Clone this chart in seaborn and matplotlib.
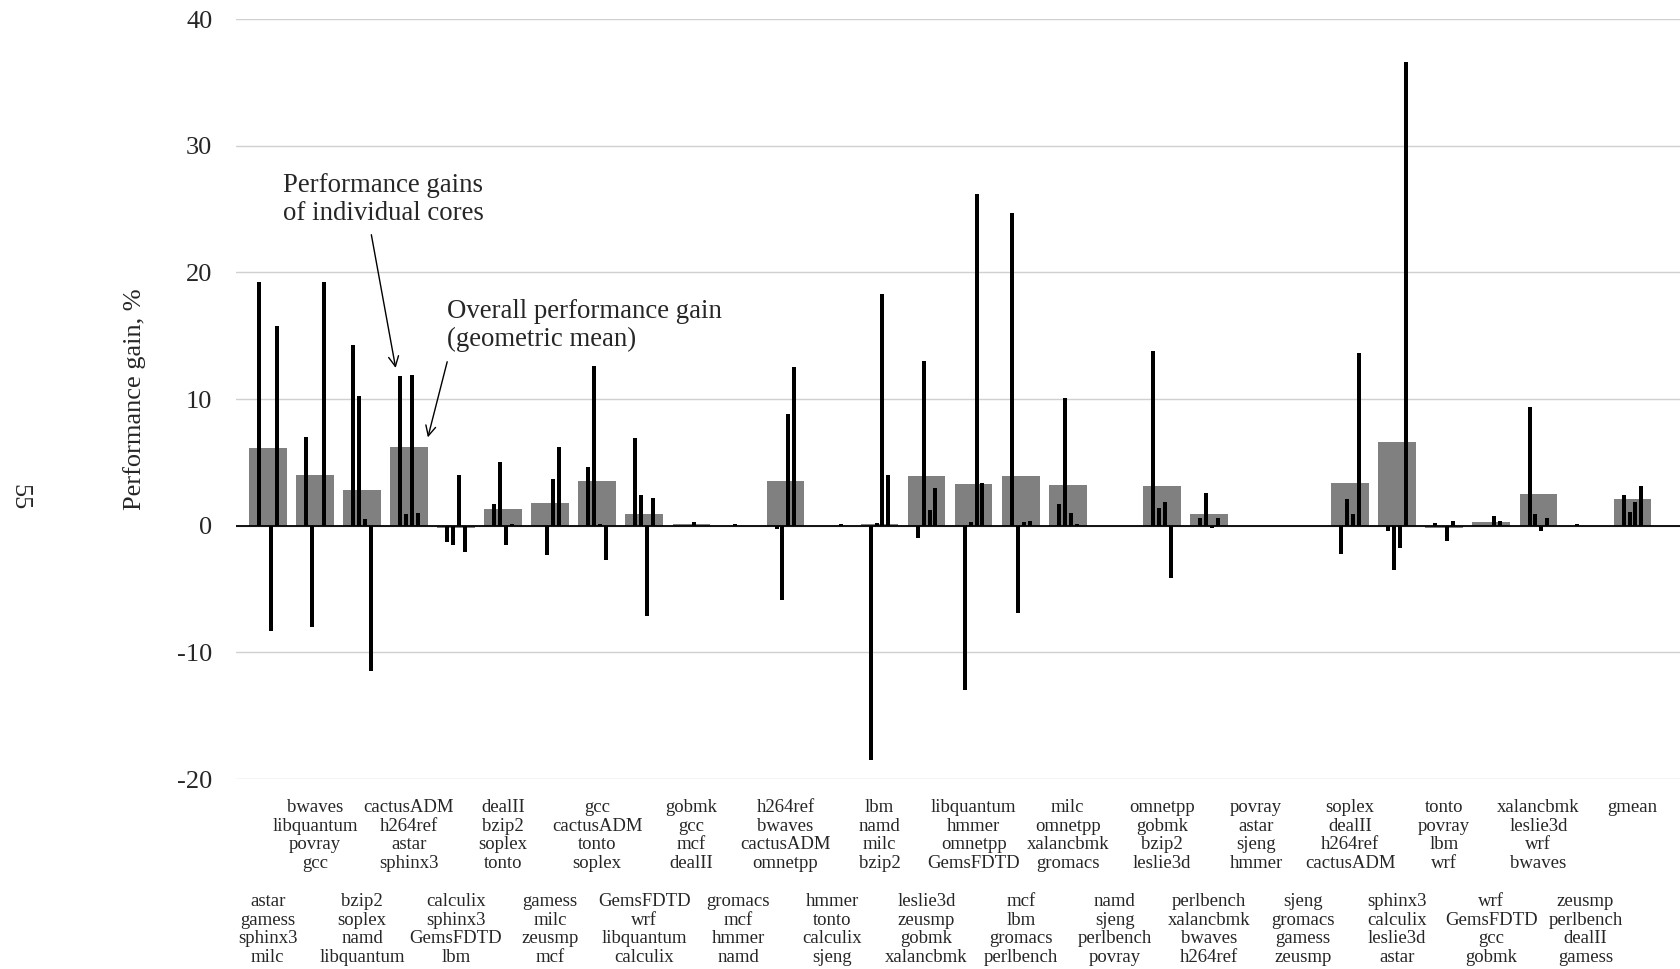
import matplotlib
matplotlib.use("Agg")
import matplotlib.pyplot as plt
import matplotlib.transforms as mtransforms
import numpy as np
import pandas as pd
import seaborn as sns

# Workload mixes (four programs, one per core) plus the geometric mean
mixes = [
    ["astar", "gamess", "sphinx3", "milc"],
    ["bwaves", "libquantum", "povray", "gcc"],
    ["bzip2", "soplex", "namd", "libquantum"],
    ["cactusADM", "h264ref", "astar", "sphinx3"],
    ["calculix", "sphinx3", "GemsFDTD", "lbm"],
    ["dealII", "bzip2", "soplex", "tonto"],
    ["gamess", "milc", "zeusmp", "mcf"],
    ["gcc", "cactusADM", "tonto", "soplex"],
    ["GemsFDTD", "wrf", "libquantum", "calculix"],
    ["gobmk", "gcc", "mcf", "dealII"],
    ["gromacs", "mcf", "hmmer", "namd"],
    ["h264ref", "bwaves", "cactusADM", "omnetpp"],
    ["hmmer", "tonto", "calculix", "sjeng"],
    ["lbm", "namd", "milc", "bzip2"],
    ["leslie3d", "zeusmp", "gobmk", "xalancbmk"],
    ["libquantum", "hmmer", "omnetpp", "GemsFDTD"],
    ["mcf", "lbm", "gromacs", "perlbench"],
    ["milc", "omnetpp", "xalancbmk", "gromacs"],
    ["namd", "sjeng", "perlbench", "povray"],
    ["omnetpp", "gobmk", "bzip2", "leslie3d"],
    ["perlbench", "xalancbmk", "bwaves", "h264ref"],
    ["povray", "astar", "sjeng", "hmmer"],
    ["sjeng", "gromacs", "gamess", "zeusmp"],
    ["soplex", "dealII", "h264ref", "cactusADM"],
    ["sphinx3", "calculix", "leslie3d", "astar"],
    ["tonto", "povray", "lbm", "wrf"],
    ["wrf", "GemsFDTD", "gcc", "gobmk"],
    ["xalancbmk", "leslie3d", "wrf", "bwaves"],
    ["zeusmp", "perlbench", "dealII", "gamess"],
    ["gmean"],
]

# Overall gain of each mix (geometric mean over the cores), %
overall_gain = [6.1, 4.0, 2.8, 6.2, -0.2, 1.3, 1.8, 3.5, 0.9, 0.1,
                0.0, 3.5, 0.0, 0.1, 3.9, 3.3, 3.9, 3.2, 0.0, 3.1,
                0.9, 0.0, 0.0, 3.4, 6.6, -0.2, 0.3, 2.5, 0.0, 2.1]

# Gains of the individual cores, %
core1_gain = [19.2, 7.0, 14.3, 11.8, -1.3, 1.7, 0.0, 4.6, 6.9, 0.0,
              0.0, -0.3, 0.0, -18.5, -1.0, -13.0, 24.7, 1.7, 0.0, 13.8,
              0.6, 0.0, 0.0, -2.2, -0.4, 0.2, 0.0, 9.4, 0.1, 2.4]
core2_gain = [0.0, -8.0, 10.2, 0.9, -1.5, 5.0, -2.3, 12.6, 2.4, 0.0,
              0.1, -5.9, 0.0, 0.2, 13.0, 0.3, -6.9, 10.1, 0.0, 1.4,
              2.6, 0.0, 0.0, 2.1, -3.5, 0.0, 0.0, 0.9, 0.0, 1.1]
core3_gain = [-8.3, 0.0, 0.5, 11.9, 4.0, -1.5, 3.7, 0.1, -7.1, 0.3,
              0.0, 8.8, 0.0, 18.3, 1.2, 26.2, 0.3, 1.0, 0.0, 1.9,
              -0.2, 0.0, 0.0, 0.9, -1.8, -1.2, 0.8, -0.4, 0.0, 1.9]
core4_gain = [15.8, 19.2, -11.5, 1.0, -2.1, 0.1, 6.2, -2.7, 2.2, 0.0,
              0.0, 12.5, 0.1, 4.0, 3.0, 3.4, 0.4, 0.1, 0.0, -4.1,
              0.6, 0.0, 0.0, 13.6, 36.6, 0.4, 0.4, 0.6, 0.0, 3.1]

y_ticks = [-20, -10, 0, 10, 20, 30, 40]

mix_names = ["\n".join(m) for m in mixes]

overall_df = pd.DataFrame({"mix": mix_names, "gain": overall_gain})
cores = ["core 1", "core 2", "core 3", "core 4"]
core_df = pd.DataFrame({
    "mix": mix_names * 4,
    "core": np.repeat(cores, len(mix_names)),
    "gain": core1_gain + core2_gain + core3_gain + core4_gain,
})

sns.set_theme(style="white")
serif = ["Liberation Serif", "DejaVu Serif"]
plt.rcParams["font.family"] = serif
plt.rcParams["axes.unicode_minus"] = False

fig = plt.figure(figsize=(16.8, 9.69), dpi=100)
ax = fig.add_axes([236 / 1680, 1 - 779 / 969, 1444 / 1680, 760 / 969])

sns.barplot(data=overall_df, x="mix", y="gain", order=mix_names,
            color="#808080", saturation=1, width=0.8, errorbar=None,
            linewidth=0, edgecolor="none", ax=ax, zorder=2)
sns.barplot(data=core_df, x="mix", y="gain", hue="core", order=mix_names,
            hue_order=cores, palette={c: "#000000" for c in cores},
            saturation=1, width=0.5, gap=0.32, dodge=True, errorbar=None,
            linewidth=0, edgecolor="none", legend=False, ax=ax, zorder=3)

ax.axhline(0, color="#000000", lw=1.3, zorder=4)

ax.set_xlim(-0.676, 30.01)
ax.set_ylim(-20, 40)
ax.set_yticks(y_ticks)
ax.set_yticklabels([str(t) for t in y_ticks], fontsize=19)
ax.tick_params(axis="y", length=0, pad=17)
ax.set_xticks([])
ax.set_xlabel("")
ax.grid(axis="y", color="#d0d0d0", lw=1.0)
ax.set_axisbelow(True)
for s in ax.spines.values():
    s.set_visible(False)

ax.set_ylabel("Performance gain, %", fontsize=19)
ax.yaxis.set_label_coords(-0.062, 0.5)

# Mix names under the bars, alternating between two rows
trans = mtransforms.blended_transform_factory(ax.transData, ax.transAxes)
for i, name in enumerate(mix_names):
    y = -0.0263 if i % 2 == 1 else -0.150
    ax.text(i, y, name, transform=trans, ha="center", va="top",
            fontsize=13.5, linespacing=1.13, multialignment="center")

# Callouts
ax.text(0.316, 24.13, "Performance gains\nof individual cores",
        fontsize=19.3, ha="left", va="baseline", linespacing=1.15)
ax.annotate("", xy=(2.717, 12.45), xytext=(2.20, 22.97),
            arrowprops=dict(arrowstyle="->", color="black", lw=1.0,
                            mutation_scale=18, shrinkA=0, shrinkB=0))
ax.text(3.816, 14.2, "Overall performance gain\n(geometric mean)",
        fontsize=19.3, ha="left", va="baseline", linespacing=1.15)
ax.annotate("", xy=(3.401, 6.97), xytext=(3.812, 12.94),
            arrowprops=dict(arrowstyle="->", color="black", lw=1.0,
                            mutation_scale=18, shrinkA=0, shrinkB=0))

# Page number in the margin
fig.text(19 / 1680, 1 - 497 / 969, "55", rotation=-90, fontsize=19,
         ha="center", va="center")

fig.savefig("out.png", dpi=100)
